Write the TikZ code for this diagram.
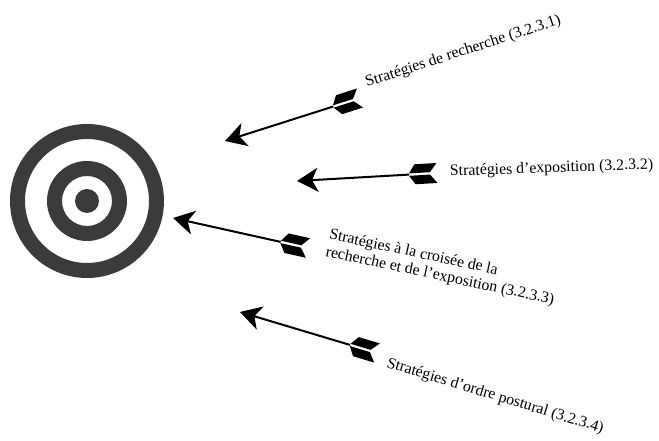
\documentclass[tikz,border=0pt]{standalone}
\usepackage{fontspec}
\setmainfont{Liberation Serif}
\usetikzlibrary{arrows.meta,calc}
\definecolor{cible}{HTML}{3B3B3D}
\tikzset{
  lbl/.style={font=\fontsize{15.8}{17.5}\selectfont, inner sep=0pt, anchor=base west, align=left},
  shaft/.style={line width=2pt, -{Stealth[length=21pt,width=24pt,inset=6pt]}},
  pics/plumes/.style={code={
    \fill (0,10) -- (22,10) -- (28,1.2) -- (7,1.2) -- cycle;
    \fill (0,-10) -- (22,-10) -- (28,-1.2) -- (7,-1.2) -- cycle;}}
}
\begin{document}
\begin{tikzpicture}[x=1pt,y=1pt]
\useasboundingbox (0,0) rectangle (659,441);
% target
\coordinate (centre) at (87,240);
\fill[cible, even odd rule] (centre) circle (77pt) circle (62pt) circle (40pt) circle (25pt) circle (12pt);
% arrow 1
\coordinate (e1) at (360,343);
\coordinate (t1) at (225,300);
\pic[rotate=197.7] at (e1) {plumes};
\draw[shaft] ($(e1)!28pt!(t1)$) -- (t1);
% arrow 2
\coordinate (e2) at (437,268);
\coordinate (t2) at (297,260);
\pic[rotate=183.3] at (e2) {plumes};
\draw[shaft] ($(e2)!28pt!(t2)$) -- (t2);
% arrow 3
\coordinate (e3) at (308,193);
\coordinate (t3) at (173,223);
\pic[rotate=167.5] at (e3) {plumes};
\draw[shaft] ($(e3)!28pt!(t3)$) -- (t3);
% arrow 4
\coordinate (e4) at (377,88);
\coordinate (t4) at (240,129);
\pic[rotate=163.3] at (e4) {plumes};
\draw[shaft] ($(e4)!28pt!(t4)$) -- (t4);
% labels
\node[lbl, rotate=18] (l1) at (367,354) {Stratégies de recherche (3.2.3.1)};
\node[lbl, rotate=2] (l2) at (450,265) {Stratégies d’exposition (3.2.3.2)};
\node[lbl, rotate=-12] (l3) at (325,185) {Stratégies à la croisée de la\\recherche et de l’exposition (3.2.3.3)};
\node[lbl, rotate=-17] (l4) at (386,74) {Stratégies d’ordre postural (3.2.3.4)};
\end{tikzpicture}
\end{document}
